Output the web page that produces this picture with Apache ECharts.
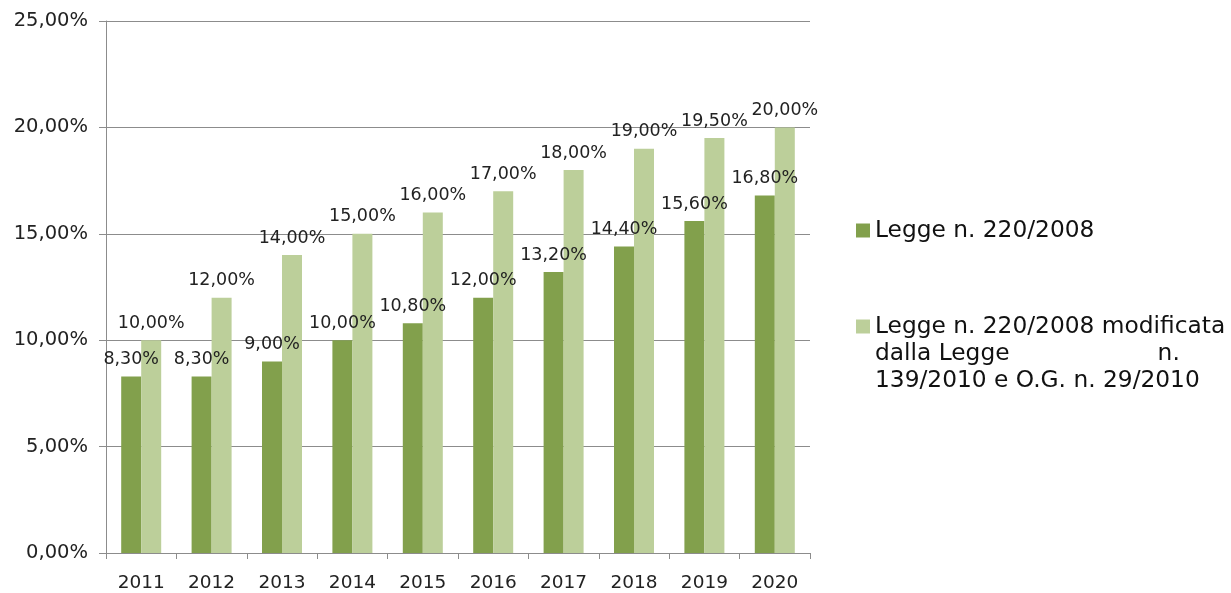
<!DOCTYPE html>
<html><head><meta charset="utf-8">
<script src="https://cdn.jsdelivr.net/npm/echarts@6/dist/echarts.min.js"></script>
<style>html,body{margin:0;padding:0;background:#fff}#c{width:1231px;height:593px}</style>
</head><body><div id="c"></div>
<script>
const years = ['2011','2012','2013','2014','2015','2016','2017','2018','2019','2020'];
const legge220 = [8.3, 8.3, 9.0, 10.0, 10.8, 12.0, 13.2, 14.4, 15.6, 16.8];
const leggeModificata = [10.0, 12.0, 14.0, 15.0, 16.0, 17.0, 18.0, 19.0, 19.5, 20.0];
const seriesNames = ['Legge n. 220/2008', 'Legge n. 220/2008 modificata dalla Legge n. 139/2010 e O.G. n. 29/2010'];
const legendLines = [
  ['Legge n. 220/2008'],
  ['Legge n. 220/2008 modificata', 'dalla Legge                    n.', '139/2010 e O.G. n. 29/2010']
];

const fmt = v => v.toFixed(2).replace('.', ',') + '%';
const FONT = 'DejaVu Sans';
// leading blank lines keep the icon level with the first text line
const legendText = lines => '\n'.repeat(lines.length - 1) + lines.join('\n');
const legendBase = {
  orient: 'vertical', left: 856, padding: 0, itemWidth: 14, itemHeight: 14, icon: 'rect',
  textStyle: {fontFamily: FONT, fontSize: 23.3, color: '#111', lineHeight: 27}
};
const chart = echarts.init(document.getElementById('c'));
chart.setOption({
  animation: false,
  textStyle: {fontFamily: FONT},
  grid: {left: 106, right: 421, top: 21, bottom: 37},
  legend: [
    Object.assign({}, legendBase, {top: 217, data: [seriesNames[0]], formatter: () => legendText(legendLines[0])}),
    Object.assign({}, legendBase, {top: 259, data: [seriesNames[1]], formatter: () => legendText(legendLines[1])})
  ],
  xAxis: {
    type: 'category', data: years,
    axisLine: {lineStyle: {color: '#8c8c8c', width: 1}},
    axisTick: {show: true, length: 6, lineStyle: {color: '#8c8c8c'}},
    axisLabel: {fontFamily: FONT, fontSize: 18.5, color: '#222', margin: 21}
  },
  yAxis: {
    type: 'value', min: 0, max: 25, interval: 5,
    axisLine: {show: true, lineStyle: {color: '#8c8c8c', width: 1}},
    axisTick: {show: true, length: 7, lineStyle: {color: '#8c8c8c'}},
    splitLine: {lineStyle: {color: '#8c8c8c', width: 1}},
    axisLabel: {fontFamily: FONT, fontSize: 19.5, color: '#222', margin: 18, formatter: v => fmt(v)}
  },
  series: [
    {name: seriesNames[0], type: 'bar', data: legge220, barWidth: 20, barGap: '0%',
     itemStyle: {color: '#82a04c'},
     label: {show: true, position: 'top', distance: 8, fontFamily: FONT, fontSize: 17.5, color: '#222', formatter: p => fmt(p.value)}},
    {name: seriesNames[1], type: 'bar', data: leggeModificata, barWidth: 20, barGap: '0%',
     itemStyle: {color: '#bccf9a'},
     label: {show: true, position: 'top', distance: 8, fontFamily: FONT, fontSize: 17.5, color: '#222', formatter: p => fmt(p.value)}}
  ]
});
</script></body></html>
